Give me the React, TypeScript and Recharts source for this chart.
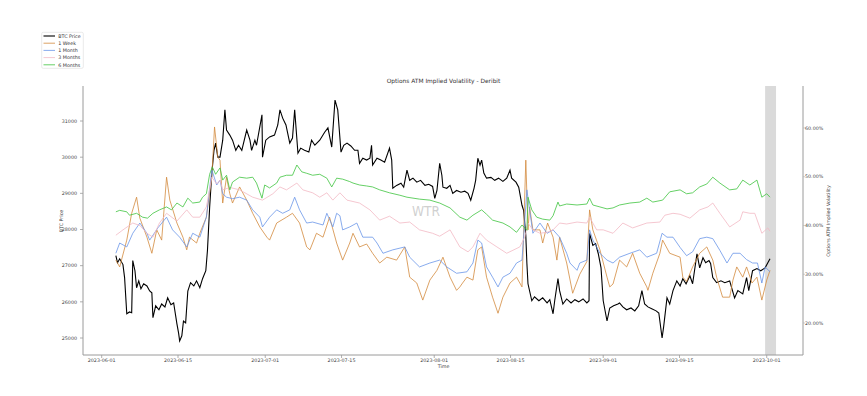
import React from 'react';
import { LineChart, Line, XAxis, YAxis, ReferenceArea } from 'recharts';

type Pt = [number, number];

// x = days since 2023-06-01, y = BTC price (USD)
const btcPrice: Pt[] = [
  [2.6,27280],[2.9,27080],[3.3,27190],[3.9,27030],[4.2,26670],[4.6,25670],[5.1,25720],[5.5,25700],[5.7,27140],[6.1,26860],
  [6.4,26390],[6.8,26580],[7.2,26360],[7.7,26500],[8.3,26440],[8.8,26300],[9.2,26250],[9.4,25560],[9.9,25890],[10.5,25780],
  [11.0,25940],[11.6,25860],[12.1,26110],[12.7,25920],[13.2,25970],[13.8,25390],[14.1,25140],[14.3,24920],[14.7,25060],[15.0,25470],
  [15.4,25420],[15.8,26300],[16.3,26530],[16.9,26440],[17.4,26580],[18.0,26390],[18.5,26640],[19.1,26860],[19.4,27420],[19.8,28610],
  [20.2,29560],[20.6,30190],[20.9,30390],[21.3,30000],[21.7,30000],[22.2,30470],[22.6,31310],[22.9,30750],[23.5,30610],[24.0,30470],
  [24.6,30190],[25.1,30330],[25.7,30190],[26.6,30750],[27.2,30470],[27.5,30190],[28.1,30470],[28.4,30330],[29.4,31170],[29.5,30000],
  [30.1,30470],[30.8,30560],[31.7,30610],[32.3,30890],[32.7,31310],[33.2,31080],[33.8,30890],[34.5,30390],[35.0,30530],[35.4,31310],
  [36.0,30110],[36.5,30250],[37.2,30190],[38.0,30140],[38.5,30470],[39.1,30330],[40.0,30470],[40.9,30690],[41.5,30810],[42.2,30280],
  [42.8,31580],[43.3,31310],[43.9,30140],[44.4,30330],[45.0,30390],[45.7,30310],[46.4,30190],[47.0,30190],[47.3,29830],[47.9,29970],
  [48.6,29920],[49.2,29970],[49.5,30330],[49.7,29780],[50.5,29970],[51.2,29920],[51.9,29860],[52.8,30250],[53.2,29920],[53.4,29140],
  [54.1,29220],[54.9,29280],[55.4,29170],[56.0,29640],[56.5,29360],[57.1,29420],[57.8,29310],[58.5,29360],[59.3,29220],[60.0,29250],
  [60.7,29190],[61.1,28860],[61.5,29080],[62.0,29830],[62.4,29500],[62.6,29170],[63.3,29140],[63.9,29220],[64.4,29000],[65.1,29080],
  [65.9,29030],[66.6,29060],[67.2,29000],[67.7,28810],[68.3,29140],[68.6,29360],[69.0,29970],[69.4,29780],[69.7,29920],[70.1,29560],
  [70.6,29420],[71.4,29440],[72.1,29360],[72.8,29420],[73.6,29330],[74.3,29420],[74.9,29640],[75.2,29420],[76.0,29310],[76.5,29170],
  [77.1,28670],[77.4,28530],[77.8,27830],[78.0,27060],[78.2,26500],[78.9,26030],[79.4,26140],[80.2,26030],[80.9,26110],[81.7,25970],
  [82.2,26060],[82.8,25670],[83.1,26030],[83.7,26640],[84.0,26310],[84.6,25940],[85.3,26080],[86.1,25970],[86.8,26060],[87.5,26000],
  [88.3,26080],[89.0,25970],[89.4,26030],[89.5,27890],[90.1,27560],[90.6,27610],[91.1,27330],[91.6,26940],[92.0,26030],[92.7,25470],
  [93.2,25830],[93.9,25890],[94.7,25940],[95.0,25970],[95.6,25860],[96.3,25780],[97.1,25830],[97.8,25750],[98.5,25890],[99.1,26310],
  [99.6,25940],[100.2,25860],[100.9,25810],[101.7,25750],[102.2,25690],[102.8,25000],[103.1,25330],[103.7,26110],[104.2,25940],[104.8,26310],
  [105.5,26580],[106.1,26440],[106.6,26640],[107.2,26500],[107.9,26720],[108.4,26500],[109.2,27330],[109.7,26940],[110.3,27220],[110.8,27080],
  [111.4,27140],[111.7,27060],[112.1,26670],[112.8,26530],[113.6,26580],[114.3,26530],[115.2,26580],[116.1,26110],[116.7,26310],[117.6,26220],
  [118.3,26670],[118.7,26310],[119.4,26860],[120.2,26920],[120.9,26860],[121.7,26940],[122.2,27080],[122.6,27190],
];

// implied volatility, percent
const iv1Week: Pt[] = [
  [2.6,32.9],[3.3,31.5],[4.6,37.0],[5.5,42.5],[6.4,45.8],[7.0,41.5],[8.3,37.6],[9.2,34.3],[10.1,39.1],[11.0,37.0],
  [11.9,49.9],[12.5,45.2],[13.8,40.5],[14.9,37.6],[15.6,35.0],[16.1,37.6],[17.4,36.4],[18.0,38.4],[19.2,41.7],[20.2,50.0],
  [20.7,60.2],[21.3,54.0],[21.7,53.4],[22.2,44.6],[22.9,49.9],[23.5,46.5],[24.0,44.6],[25.3,47.9],[26.6,45.2],[27.7,42.5],
  [29.0,39.7],[30.3,37.6],[30.8,37.0],[32.1,40.5],[33.9,41.7],[35.0,42.5],[36.3,40.5],[37.6,35.6],[38.2,35.0],[39.4,38.4],
  [40.6,37.6],[41.8,41.7],[43.1,36.4],[44.2,32.9],[45.5,36.4],[46.1,38.4],[47.3,35.6],[48.6,36.2],[49.7,34.3],[51.0,32.3],
  [52.3,33.5],[54.1,32.9],[55.6,35.6],[56.5,29.4],[57.8,28.2],[58.9,24.7],[60.2,28.8],[61.5,30.8],[62.6,33.5],[63.9,29.4],
  [65.1,26.7],[65.7,27.4],[66.2,28.2],[67.0,29.4],[68.1,28.8],[69.0,35.0],[69.7,35.6],[70.6,29.4],[71.7,25.3],[72.7,22.0],
  [73.6,25.3],[74.9,28.2],[76.1,29.4],[77.1,27.4],[77.8,53.4],[78.2,39.1],[78.5,43.8],[79.1,39.1],[80.4,39.1],[80.9,36.4],
  [81.8,40.5],[82.8,37.6],[83.5,32.9],[84.0,37.6],[85.3,32.3],[86.4,26.1],[87.7,30.0],[89.0,32.6],[89.5,43.2],[90.1,39.1],
  [91.4,35.0],[92.7,29.4],[93.2,27.4],[93.8,28.0],[95.0,32.9],[96.3,31.5],[97.4,34.3],[98.7,30.2],[100.0,27.4],[100.2,26.7],
  [101.1,30.2],[102.4,34.3],[102.9,37.0],[104.2,34.3],[106.1,33.5],[106.6,29.4],[107.3,28.5],[108.4,31.5],[109.7,34.3],[111.0,35.6],
  [112.1,32.9],[112.8,29.4],[113.9,25.3],[115.2,25.3],[115.8,28.8],[116.5,31.5],[117.6,29.4],[118.3,31.5],[119.3,28.2],[120.2,29.4],
  [121.1,24.7],[122.0,28.8],[122.6,30.8],
];

const iv1Month: Pt[] = [
  [2.6,34.3],[3.3,36.4],[4.6,35.6],[5.7,38.4],[7.0,40.5],[8.3,38.4],[8.8,37.0],[10.3,39.5],[11.9,41.7],[13.0,39.1],
  [14.3,37.6],[15.6,35.6],[16.7,38.4],[18.0,37.6],[19.2,41.7],[20.2,51.4],[21.1,48.3],[21.7,49.3],[22.2,46.5],[22.9,45.8],
  [24.0,45.5],[25.3,45.8],[26.6,45.2],[27.7,43.2],[29.0,41.7],[29.5,39.7],[30.8,41.7],[32.1,43.2],[33.2,42.5],[34.5,43.2],
  [35.4,45.8],[36.3,43.2],[37.6,40.5],[38.7,40.7],[40.6,40.1],[41.3,42.5],[42.4,39.7],[43.1,42.5],[43.7,42.0],[44.2,39.1],
  [45.5,39.7],[46.8,40.5],[47.9,37.6],[49.7,37.6],[50.5,36.4],[51.6,34.3],[53.4,35.0],[55.6,35.6],[56.5,33.5],[58.3,31.5],
  [60.2,32.3],[62.0,32.9],[63.3,31.5],[65.1,30.2],[67.0,30.5],[68.1,32.3],[69.0,37.0],[69.7,36.4],[70.6,31.5],[71.7,29.4],
  [72.7,27.4],[73.6,29.4],[74.9,30.2],[76.1,32.3],[77.1,32.9],[78.0,47.3],[78.5,43.2],[79.1,38.4],[80.4,40.5],[81.7,38.4],
  [82.8,39.1],[84.0,37.6],[85.3,34.3],[85.9,32.3],[87.2,30.8],[87.7,32.3],[89.0,32.9],[89.5,39.1],[90.1,37.0],[91.4,34.3],
  [92.7,32.9],[93.8,32.3],[95.0,33.5],[96.9,34.3],[98.7,35.0],[100.0,33.5],[101.8,34.3],[102.8,38.4],[103.7,37.6],[104.8,37.6],
  [106.1,35.5],[107.3,33.8],[108.4,34.6],[109.7,37.3],[111.0,37.6],[112.1,37.3],[113.4,34.9],[114.7,32.3],[115.8,34.3],[117.1,34.3],
  [118.3,33.0],[119.4,32.3],[120.3,32.3],[121.1,28.2],[121.7,31.5],[122.6,30.5],
];

const iv3Months: Pt[] = [
  [2.6,38.0],[3.9,39.1],[5.7,40.5],[7.0,40.0],[8.3,38.4],[9.4,37.6],[10.6,40.5],[11.9,42.5],[13.8,40.9],[15.6,43.2],
  [16.7,41.7],[18.0,41.7],[19.2,43.8],[20.2,49.9],[21.1,48.5],[21.7,49.3],[22.2,47.3],[23.5,47.8],[25.3,47.3],[27.7,45.8],
  [29.5,45.2],[31.4,46.5],[32.7,47.9],[33.9,47.3],[35.8,48.7],[36.9,47.3],[38.7,46.7],[40.0,45.8],[41.3,46.7],[42.4,45.2],
  [43.7,46.7],[45.0,45.2],[47.3,44.6],[49.2,43.2],[51.0,41.1],[52.8,41.9],[54.7,40.5],[56.5,40.7],[58.3,39.1],[60.7,38.4],
  [62.0,37.8],[63.9,39.1],[65.7,35.6],[67.2,34.6],[68.1,35.6],[69.4,38.4],[70.6,37.0],[72.5,35.6],[74.3,34.3],[76.7,35.6],
  [77.6,37.6],[78.2,40.5],[79.1,39.1],[80.4,38.4],[81.7,38.6],[82.8,39.1],[84.0,40.5],[85.3,40.3],[87.2,40.7],[89.0,40.5],
  [89.5,41.7],[90.8,39.1],[92.0,39.1],[93.8,38.4],[95.6,40.5],[97.4,39.5],[100.0,40.5],[102.4,40.7],[103.3,42.1],[104.8,42.5],
  [106.1,42.3],[107.9,41.5],[109.7,43.2],[111.2,43.8],[112.1,44.6],[113.4,42.5],[115.2,39.7],[117.1,41.1],[117.6,42.8],[118.9,42.5],
  [119.8,42.5],[121.1,38.4],[122.2,39.5],[122.6,38.8],
];

const iv6Months: Pt[] = [
  [2.6,42.8],[3.3,43.1],[4.6,42.8],[5.1,42.1],[6.4,42.5],[7.5,41.7],[8.4,41.5],[9.4,42.5],[10.6,43.2],[11.9,43.8],
  [12.8,43.2],[13.8,44.6],[14.9,43.8],[15.8,45.6],[16.7,44.6],[18.0,44.8],[18.5,45.8],[19.2,46.5],[19.8,50.5],[20.3,52.0],
  [20.9,50.5],[21.7,51.8],[22.2,49.3],[22.9,50.3],[23.5,47.3],[24.0,48.9],[25.3,49.9],[26.6,49.7],[27.7,49.9],[28.4,48.7],
  [29.4,45.6],[29.9,48.3],[30.8,47.7],[32.1,48.7],[32.7,49.9],[33.9,50.3],[35.0,50.3],[35.8,52.4],[36.7,51.0],[37.6,50.7],
  [38.7,50.3],[40.0,50.5],[41.3,49.7],[42.2,47.9],[43.1,49.7],[44.2,49.5],[45.5,49.0],[46.1,48.7],[47.3,48.3],[48.6,48.1],
  [49.7,47.9],[51.0,47.3],[52.8,46.7],[54.7,46.2],[56.0,45.8],[58.3,45.4],[60.2,45.2],[62.0,44.6],[63.9,43.6],[65.7,41.7],
  [67.0,41.1],[68.1,42.1],[69.7,43.2],[70.6,42.3],[71.7,41.1],[73.6,40.5],[74.9,39.7],[76.1,38.6],[77.1,40.1],[78.0,39.0],
  [78.2,45.8],[78.9,43.2],[79.8,41.7],[80.9,41.3],[82.2,41.1],[82.8,42.0],[83.7,44.8],[84.0,44.0],[85.3,44.4],[87.2,44.2],
  [89.0,44.4],[89.5,45.6],[90.1,44.2],[91.4,43.8],[92.7,43.4],[93.8,43.6],[95.0,44.2],[96.9,44.6],[98.7,44.8],[100.0,45.6],
  [101.1,44.8],[102.9,45.2],[104.2,46.9],[106.1,47.3],[107.3,46.5],[108.4,46.7],[109.7,47.9],[111.0,48.5],[112.1,49.9],[113.4,48.7],
  [115.2,47.3],[116.5,47.5],[117.6,49.3],[118.9,48.3],[120.2,49.3],[121.1,45.8],[122.0,46.5],[122.6,45.8],
];

const xTickDays = [0, 14, 30, 44, 61, 75, 92, 106, 122];
const xTickLabels = ['2023-06-01', '2023-06-15', '2023-07-01', '2023-07-15', '2023-08-01', '2023-08-15', '2023-09-01', '2023-09-15', '2023-10-01'];
const btcTicks = [25000, 26000, 27000, 28000, 29000, 30000, 31000];
const ivTicks = [20, 30, 40, 50, 60];
const highlightSpan = [121.7, 123.7];

const seriesNames = ['BTC Price', '1 Week', '1 Month', '3 Months', '6 Months'];
const seriesColors = ['#000000', '#d38a3e', '#6a96e8', '#f2b9c4', '#3fc43f'];

const FONT = '"DejaVu Sans", sans-serif';
const rows = (pts: Pt[]) => pts.map(([d, v]) => ({ d, v }));

const series = [
  { name: seriesNames[0], color: seriesColors[0], data: rows(btcPrice), axis: 'btc', w: 1.1 },
  { name: seriesNames[1], color: seriesColors[1], data: rows(iv1Week), axis: 'iv', w: 0.8 },
  { name: seriesNames[2], color: seriesColors[2], data: rows(iv1Month), axis: 'iv', w: 0.8 },
  { name: seriesNames[3], color: seriesColors[3], data: rows(iv3Months), axis: 'iv', w: 0.8 },
  { name: seriesNames[4], color: seriesColors[4], data: rows(iv6Months), axis: 'iv', w: 0.8 },
];

const tickStyle = { fontSize: 4.8, fill: '#444', fontFamily: FONT };
const spine = { stroke: '#9a9a9a', strokeWidth: 1 };

export default function App() {
  return (
    <div style={{ position: 'absolute', left: 0, top: 0, width: 867, height: 396, background: '#fff', fontFamily: FONT }}>
      <LineChart width={867} height={396} margin={{ top: 86, right: 0, bottom: 0, left: 0 }}>
        <XAxis
          dataKey="d"
          type="number"
          domain={[-3.43, 128.65]}
          ticks={xTickDays}
          tickFormatter={(v: number) => xTickLabels[xTickDays.indexOf(v)] ?? ''}
          height={41}
          tickSize={3}
          tickMargin={1}
          interval={0}
          tick={tickStyle}
          axisLine={spine}
          tickLine={{ stroke: '#9a9a9a', strokeWidth: 0.8 }}
          allowDataOverflow
        />
        <XAxis
          xAxisId="top"
          orientation="top"
          dataKey="d"
          type="number"
          domain={[-3.43, 128.65]}
          height={0}
          tick={false}
          tickLine={false}
          axisLine={spine}
          allowDataOverflow
        />
        <YAxis
          yAxisId="btc"
          orientation="left"
          type="number"
          width={83}
          domain={[24530, 31968]}
          ticks={btcTicks}
          interval={0}
          tickSize={3}
          tickMargin={3}
          tick={tickStyle}
          axisLine={spine}
          tickLine={{ stroke: '#9a9a9a', strokeWidth: 0.8 }}
          allowDataOverflow
        />
        <YAxis
          yAxisId="iv"
          orientation="right"
          type="number"
          width={64}
          domain={[13.44, 68.6]}
          ticks={ivTicks}
          interval={0}
          tickSize={2}
          tickMargin={0}
          tick={tickStyle}
          tickFormatter={(v: number) => `${v.toFixed(2)}%`}
          axisLine={spine}
          tickLine={{ stroke: '#b0b0b0', strokeWidth: 0.6 }}
          allowDataOverflow
        />
        <ReferenceArea
          yAxisId="btc"
          x1={highlightSpan[0]}
          x2={highlightSpan[1]}
          fill="#d4d4d4"
          fillOpacity={0.85}
          stroke="none"
          ifOverflow="hidden"
        />
        {series.map((s) => (
          <Line
            key={s.name}
            name={s.name}
            data={s.data}
            dataKey="v"
            yAxisId={s.axis}
            type="linear"
            stroke={s.color}
            strokeWidth={s.w}
            dot={false}
            activeDot={false}
            isAnimationActive={false}
          />
        ))}
      </LineChart>
      <svg width={867} height={396} style={{ position: 'absolute', left: 0, top: 0, pointerEvents: 'none' }}>
        <g fontFamily={FONT}>
          <text x={443.5} y={82.6} fontSize={5.9} textAnchor="middle" fill="#333">Options ATM Implied Volatility - Deribit</text>
          <text x={443.5} y={367.8} fontSize={4.8} textAnchor="middle" fill="#444">Time</text>
          <text x={62.5} y={221} fontSize={4.8} textAnchor="middle" fill="#444" transform="rotate(-90 62.5 221)">BTC Price</text>
          <text x={829.5} y={221} fontSize={4.8} textAnchor="middle" fill="#444" transform="rotate(-90 829.5 221)">Options ATM Implied Volatility</text>
          <text x={426} y={215.7} fontSize={14} textAnchor="middle" fill="#c4c4c4" fillOpacity={0.8} textLength={28} lengthAdjust="spacingAndGlyphs">WTR</text>
          <rect x={41.7} y={32.3} width={41.6} height={36} rx={1.5} fill="#fff" fillOpacity={0.8} stroke="#dcdcdc" strokeWidth={0.6} />
          {seriesNames.map((n, i) => {
            const cy = 36 + i * 7.2;
            return (
              <g key={n}>
                <line x1={43.5} x2={55} y1={cy} y2={cy} stroke={seriesColors[i]} strokeWidth={i === 0 ? 1.1 : 0.8} />
                <text x={58.2} y={cy + 1.7} fontSize={4.8} fill="#333">{n}</text>
              </g>
            );
          })}
        </g>
      </svg>
    </div>
  );
}
